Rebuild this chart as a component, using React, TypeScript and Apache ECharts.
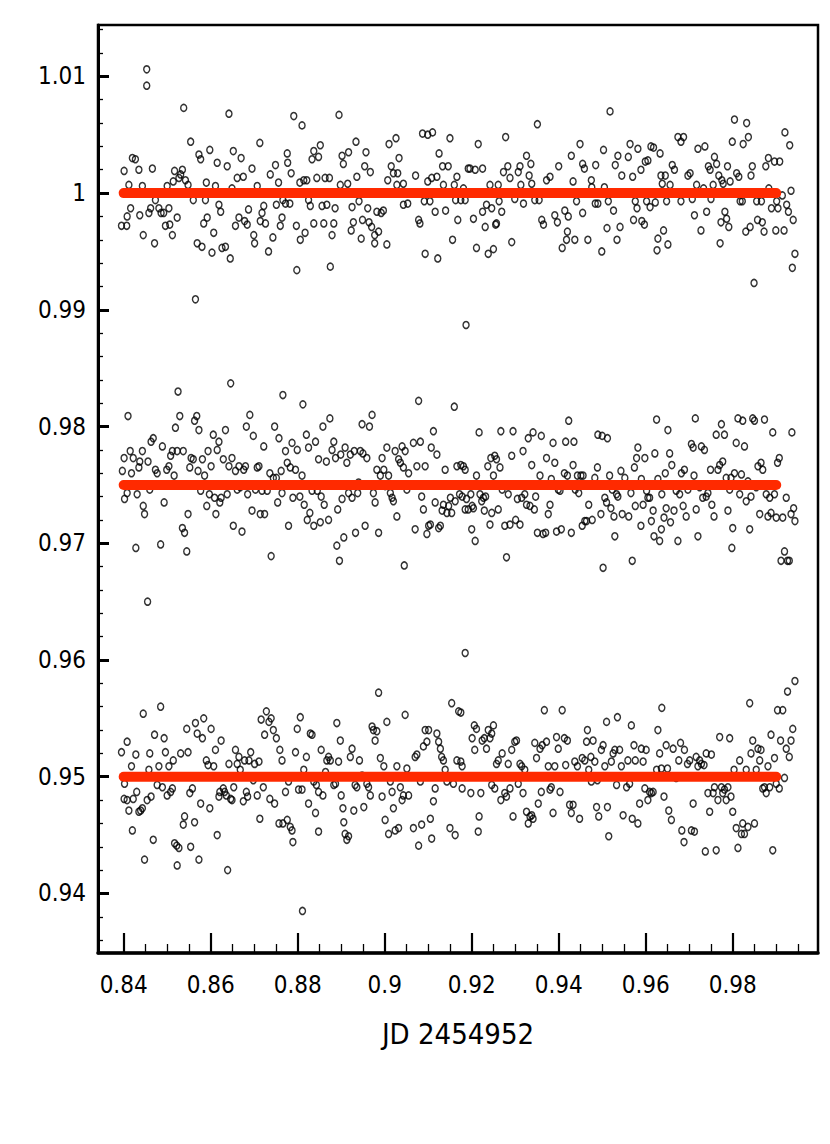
import React, { useEffect, useRef } from "react";
import * as echarts from "echarts";

// ---- axis setup (data units) ----
const X_MIN = 0.8341;
const X_MAX = 0.9996;
const Y_MIN = 0.9349;
const Y_MAX = 1.0144;
const X_LABEL = "JD 2454952";

const xMajor = [0.84, 0.86, 0.88, 0.9, 0.92, 0.94, 0.96, 0.98];
const xMinor = [
  0.845, 0.85, 0.855, 0.865, 0.87, 0.875, 0.885, 0.89, 0.895, 0.905, 0.91, 0.915, 0.925, 0.93, 0.935,
  0.945, 0.95, 0.955, 0.965, 0.97, 0.975, 0.985, 0.99, 0.995,
];
const yMajor = [0.94, 0.95, 0.96, 0.97, 0.98, 0.99, 1, 1.01];
const yMinor = [
  0.936, 0.938, 0.942, 0.944, 0.946, 0.948, 0.952, 0.954, 0.956, 0.958, 0.962, 0.964, 0.966, 0.968,
  0.972, 0.974, 0.976, 0.978, 0.982, 0.984, 0.986, 0.988, 0.992, 0.994, 0.996, 0.998, 1.002, 1.004,
  1.006, 1.008, 1.012, 1.014,
];

// ---- fitted levels (red lines) ----
const fitX = [0.84, 0.99];
const fitLevels = [1.0, 0.975, 0.95];

// ---- photometry: upper band ----
const topBand = [
  [0.8395,0.9972],[0.8407,0.9972],[0.8408,0.9980],[0.8416,0.9987],[0.8401,1.0019],[0.8412,1.0007],[0.8420,1.0030],[0.8427,1.0029],[0.8435,1.0020],[0.8443,1.0006],
  [0.8437,0.9981],[0.8445,0.9964],[0.8453,1.0106],[0.8453,1.0092],[0.8458,0.9983],[0.8462,0.9987],[0.8466,1.0021],[0.8471,0.9957],[0.8473,0.9994],[0.8481,0.9987],
  [0.8486,0.9983],[0.8492,0.9983],[0.8496,0.9972],[0.8500,1.0006],[0.8504,0.9987],[0.8506,0.9973],[0.8512,0.9964],[0.8514,1.0010],[0.8517,1.0019],[0.8523,0.9979],
  [0.8527,1.0013],[0.8531,1.0016],[0.8535,1.0020],[0.8538,1.0073],[0.8542,1.0011],[0.8548,1.0007],[0.8554,1.0044],[0.8560,0.9994],[0.8565,0.9909],[0.8569,0.9957],
  [0.8573,1.0033],[0.8577,1.0029],[0.8580,0.9954],[0.8584,0.9974],[0.8588,0.9994],[0.8590,1.0009],[0.8592,0.9979],[0.8598,1.0037],[0.8603,0.9949],[0.8607,0.9966],
  [0.8611,1.0006],[0.8615,1.0026],[0.8619,0.9990],[0.8623,0.9984],[0.8626,0.9953],[0.8634,0.9954],[0.8638,1.0023],[0.8642,1.0068],[0.8645,0.9944],[0.8649,1.0004],
  [0.8652,1.0036],[0.8657,0.9972],[0.8661,1.0013],[0.8665,0.9979],[0.8670,1.0030],[0.8675,1.0014],[0.8678,0.9976],[0.8684,0.9973],[0.8687,0.9986],[0.8695,1.0021],
  [0.8699,0.9964],[0.8701,0.9957],[0.8707,1.0006],[0.8713,1.0043],[0.8714,0.9976],[0.8718,0.9983],[0.8722,0.9989],[0.8726,0.9974],[0.8733,0.9950],[0.8737,1.0016],
  [0.8743,0.9962],[0.8749,1.0024],[0.8751,0.9990],[0.8756,1.0009],[0.8760,0.9972],[0.8764,0.9979],[0.8766,0.9994],[0.8772,0.9991],[0.8776,1.0034],[0.8777,1.0026],
  [0.8782,0.9991],[0.8785,1.0017],[0.8791,1.0066],[0.8797,0.9972],[0.8798,0.9934],[0.8805,1.0009],[0.8806,0.9960],[0.8810,1.0058],[0.8814,1.0011],[0.8817,0.9966],
  [0.8821,1.0011],[0.8825,0.9994],[0.8829,0.9989],[0.8833,1.0029],[0.8837,1.0036],[0.8837,0.9974],[0.8844,1.0013],[0.8848,1.0031],[0.8852,1.0041],[0.8856,0.9989],
  [0.8860,0.9974],[0.8863,1.0013],[0.8867,0.9990],[0.8873,1.0013],[0.8875,0.9937],[0.8879,0.9964],[0.8883,0.9974],[0.8886,0.9987],
  [0.8895,1.0067],[0.8902,1.0032],[0.8905,1.0025],[0.8917,1.0035],[0.8934,1.0044],[0.8936,1.0014],[0.8915,1.0008],[0.8898,1.0007],[0.8941,0.9993],[0.8925,0.9988],
  [0.8928,0.9975],[0.8923,0.9968],[0.8946,0.9961],[0.8949,0.9977],[0.8954,1.0023],[0.8957,1.0035],[0.8967,1.0018],[0.8961,0.9987],[0.8964,0.9975],[0.8970,0.9971],
  [0.8977,0.9964],[0.8977,0.9957],[0.8982,0.9984],[0.8986,0.9967],[0.8992,0.9983],[0.8997,0.9985],[0.9005,0.9956],[0.9010,1.0042],[0.9007,1.0011],[0.9015,1.0023],
  [0.9020,1.0017],[0.9026,1.0047],[0.9030,1.0017],[0.9028,1.0007],[0.9033,1.0030],[0.9043,1.0008],[0.9043,0.9990],[0.9053,0.9991],[0.9071,1.0015],[0.9078,0.9977],
  [0.9081,0.9974],[0.9087,1.0051],[0.9099,1.0050],[0.9110,1.0052],[0.9093,0.9948],[0.9091,0.9993],[0.9099,1.0010],[0.9104,0.9993],[0.9108,1.0013],[0.9116,0.9984],
  [0.9120,1.0014],[0.9122,0.9944],[0.9125,1.0034],[0.9133,1.0023],[0.9135,1.0007],[0.9140,0.9985],[0.9146,1.0023],[0.9150,1.0047],[0.9156,0.9960],[0.9160,1.0007],
  [0.9163,0.9994],[0.9166,1.0014],[0.9168,0.9977],[0.9175,0.9994],[0.9181,1.0004],[0.9185,0.9994],[0.9187,0.9887],[0.9192,1.0021],[0.9196,1.0021],[0.9204,0.9978],
  [0.9208,1.0020],[0.9211,0.9953],[0.9215,1.0042],[0.9225,1.0021],[0.9225,0.9984],[0.9231,0.9971],[0.9234,0.9990],[0.9238,0.9948],[0.9242,1.0007],[0.9246,0.9987],
  [0.9250,0.9952],[0.9255,0.9973],[0.9257,0.9974],[0.9261,1.0007],[0.9263,0.9993],[0.9269,0.9984],[0.9273,1.0018],[0.9278,1.0048],[0.9283,1.0023],[0.9288,1.0013],
  [0.9292,0.9958],[0.9299,0.9995],[0.9307,1.0018],[0.9311,1.0023],[0.9313,1.0007],[0.9319,0.9991],[0.9326,1.0032],[0.9332,1.0015],[0.9336,1.0025],[0.9338,1.0008],
  [0.9345,0.9994],[0.9351,1.0059],[0.9355,0.9994],[0.9361,0.9977],[0.9365,0.9973],[0.9372,1.0011],[0.9380,1.0014],[0.9391,0.9981],[0.9397,0.9975],[0.9400,1.0023],
  [0.9408,0.9953],[0.9414,0.9985],[0.9420,0.9967],[0.9422,0.9980],[0.9418,0.9960],[0.9429,1.0032],[0.9433,1.0010],[0.9437,0.9960],[0.9441,0.9993],
  [0.9449,1.0042],[0.9455,1.0025],[0.9459,1.0021],[0.9455,0.9983],[0.9467,0.9960],[0.9475,1.0011],[0.9476,1.0005],[0.9485,1.0024],[0.9484,0.9991],[0.9490,0.9991],
  [0.9499,0.9950],[0.9503,1.0037],[0.9505,1.0005],[0.9514,0.9993],[0.9518,1.0070],[0.9526,0.9985],[0.9530,1.0024],[0.9536,1.0032],[0.9511,0.9970],[0.9534,0.9960],
  [0.9541,0.9971],[0.9545,1.0015],[0.9560,1.0031],[0.9564,1.0042],[0.9570,1.0014],[0.9572,0.9977],[0.9576,0.9993],[0.9580,0.9987],[0.9582,1.0038],[0.9589,1.0020],
  [0.9591,0.9976],[0.9597,0.9973],[0.9599,1.0027],[0.9605,1.0028],[0.9602,0.9993],[0.9610,0.9988],[0.9612,1.0040],[0.9618,1.0039],[0.9622,0.9992],[0.9628,0.9961],
  [0.9626,0.9951],[0.9633,1.0034],[0.9635,1.0015],[0.9638,1.0008],[0.9641,0.9968],[0.9645,1.0015],[0.9648,0.9993],[0.9651,0.9956],[0.9656,1.0007],[0.9661,1.0024],
  [0.9666,1.0020],[0.9674,1.0048],[0.9681,1.0044],[0.9687,1.0048],[0.9681,0.9993],[0.9697,1.0015],[0.9702,1.0017],[0.9707,0.9995],[0.9712,0.9981],[0.9717,1.0007],
  [0.9720,1.0038],[0.9727,0.9968],[0.9733,1.0004],[0.9736,1.0040],[0.9740,0.9984],[0.9744,1.0023],[0.9748,1.0020],[0.9750,0.9995],[0.9755,1.0007],[0.9758,1.0031],
  [0.9763,1.0025],[0.9768,1.0015],[0.9771,0.9957],[0.9773,0.9975],[0.9775,1.0011],[0.9778,1.0008],[0.9782,0.9984],[0.9786,0.9978],[0.9791,0.9971],[0.9788,1.0023],
  [0.9794,1.0010],[0.9799,1.0044],[0.9804,1.0063],[0.9809,1.0017],[0.9814,1.0014],[0.9817,0.9993],[0.9822,0.9993],[0.9824,1.0042],[0.9830,0.9967],[0.9832,1.0060],
  [0.9836,1.0048],[0.9840,0.9971],[0.9842,1.0015],[0.9845,1.0023],[0.9849,0.9923],[0.9855,0.9993],[0.9857,0.9977],[0.9866,0.9993],[0.9868,0.9975],[0.9872,0.9967],
  [0.9876,1.0023],[0.9882,1.0030],[0.9883,1.0004],[0.9889,0.9987],[0.9896,1.0027],[0.9899,0.9968],[0.9901,0.9993],[0.9904,0.9987],[0.9908,1.0027],[0.9914,0.9998],
  [0.9918,0.9968],[0.9920,1.0052],[0.9924,0.9990],[0.9928,0.9984],[0.9931,1.0041],[0.9934,1.0002],[0.9939,0.9977],[0.9943,0.9948],[0.9937,0.9936],
];

// ---- photometry: middle band ----
const middleBand = [
  [0.8397,0.9762],[0.8401,0.9773],[0.8402,0.9738],[0.8408,0.9743],[0.8410,0.9809],[0.8415,0.9779],[0.8418,0.9760],[0.8422,0.9773],[0.8428,0.9696],[0.8431,0.9742],
  [0.8435,0.9765],[0.8437,0.9770],[0.8443,0.9779],[0.8445,0.9732],[0.8448,0.9725],[0.8455,0.9650],[0.8456,0.9770],[0.8460,0.9746],[0.8463,0.9787],[0.8468,0.9790],
  [0.8473,0.9763],[0.8477,0.9760],[0.8485,0.9699],[0.8489,0.9783],[0.8493,0.9735],[0.8499,0.9763],[0.8504,0.9766],[0.8508,0.9775],[0.8512,0.9779],[0.8516,0.9758],
  [0.8519,0.9799],[0.8523,0.9779],[0.8525,0.9830],[0.8529,0.9809],[0.8535,0.9713],[0.8537,0.9779],[0.8540,0.9709],[0.8545,0.9693],[0.8548,0.9725],[0.8552,0.9765],
  [0.8555,0.9773],[0.8560,0.9772],[0.8563,0.9805],[0.8568,0.9809],[0.8571,0.9762],[0.8573,0.9797],[0.8577,0.9745],[0.8581,0.9772],[0.8586,0.9758],[0.8591,0.9732],
  [0.8594,0.9779],[0.8597,0.9742],[0.8601,0.9766],[0.8606,0.9793],[0.8609,0.9739],[0.8612,0.9725],[0.8615,0.9780],[0.8619,0.9787],[0.8621,0.9735],[0.8624,0.9739],
  [0.8629,0.9772],[0.8634,0.9797],[0.8638,0.9742],[0.8642,0.9766],[0.8646,0.9837],[0.8649,0.9773],[0.8652,0.9715],[0.8657,0.9762],[0.8661,0.9746],[0.8665,0.9766],
  [0.8668,0.9748],[0.8672,0.9710],[0.8676,0.9763],[0.8680,0.9766],[0.8682,0.9800],[0.8685,0.9742],[0.8690,0.9810],[0.8695,0.9728],[0.8698,0.9792],[0.8703,0.9746],
  [0.8707,0.9765],[0.8711,0.9766],[0.8714,0.9725],[0.8718,0.9745],[0.8722,0.9783],[0.8724,0.9725],[0.8730,0.9745],[0.8736,0.9760],[0.8739,0.9689],[0.8744,0.9756],
  [0.8747,0.9800],[0.8751,0.9756],[0.8754,0.9735],[0.8757,0.9790],[0.8762,0.9762],[0.8764,0.9743],[0.8766,0.9827],[0.8772,0.9779],[0.8776,0.9769],[0.8779,0.9715],
  [0.8783,0.9765],[0.8787,0.9786],[0.8789,0.9739],[0.8795,0.9763],[0.8799,0.9780],[0.8805,0.9740],[0.8810,0.9758],[0.8812,0.9819],[0.8815,0.9733],[0.8820,0.9793],
  [0.8822,0.9720],[0.8825,0.9782],[0.8828,0.9726],[0.8833,0.9745],[0.8837,0.9715],[0.8841,0.9787],[0.8845,0.9745],[0.8848,0.9772],[0.8852,0.9718],[0.8854,0.9740],
  [0.8858,0.9800],[0.8861,0.9733],[0.8866,0.9770],[0.8871,0.9720],[0.8874,0.9807],[0.8879,0.9780],[0.8883,0.9787],[0.8887,0.9773],[0.8890,0.9698],[0.8892,0.9729],
  [0.8896,0.9685],[0.8899,0.9776],[0.8902,0.9738],[0.8906,0.9705],[0.8909,0.9782],[0.8913,0.9769],[0.8917,0.9743],[0.8921,0.9776],[0.8925,0.9739],[0.8930,0.9779],
  [0.8933,0.9709],[0.8938,0.9743],[0.8940,0.9752],[0.8944,0.9779],[0.8948,0.9802],[0.8950,0.9777],[0.8955,0.9715],[0.8959,0.9773],[0.8965,0.9800],[0.8971,0.9810],
  [0.8974,0.9743],[0.8978,0.9735],[0.8982,0.9763],[0.8986,0.9709],[0.8990,0.9758],[0.8994,0.9773],[0.8998,0.9763],[0.9001,0.9749],[0.9005,0.9782],[0.9009,0.9758],
  [0.9013,0.9743],[0.9017,0.9739],[0.9020,0.9736],[0.9024,0.9779],[0.9028,0.9723],[0.9032,0.9772],[0.9036,0.9769],[0.9040,0.9783],[0.9043,0.9765],[0.9045,0.9681],
  [0.9047,0.9779],[0.9051,0.9746],[0.9055,0.9760],[0.9066,0.9786],[0.9070,0.9712],[0.9074,0.9766],[0.9078,0.9822],[0.9082,0.9787],[0.9085,0.9740],[0.9089,0.9729],
  [0.9093,0.9766],[0.9097,0.9708],[0.9101,0.9715],[0.9105,0.9716],[0.9107,0.9782],[0.9112,0.9796],[0.9116,0.9735],[0.9120,0.9776],[0.9124,0.9713],[0.9128,0.9715],
  [0.9132,0.9728],[0.9135,0.9733],[0.9139,0.9763],[0.9143,0.9726],[0.9147,0.9732],[0.9151,0.9739],[0.9154,0.9726],[0.9160,0.9817],[0.9162,0.9736],[0.9166,0.9766],
  [0.9172,0.9742],
  [0.9175,0.9767],[0.9181,0.9766],[0.9185,0.9763],[0.9178,0.9740],[0.9188,0.9738],[0.9185,0.9729],[0.9192,0.9729],[0.9198,0.9742],[0.9201,0.9732],[0.9204,0.9730],
  [0.9200,0.9712],[0.9208,0.9702],[0.9211,0.9758],[0.9217,0.9795],[0.9219,0.9742],[0.9223,0.9736],[0.9227,0.9739],[0.9229,0.9728],[0.9232,0.9740],[0.9237,0.9766],
  [0.9242,0.9716],[0.9244,0.9773],[0.9246,0.9726],[0.9250,0.9758],[0.9253,0.9775],[0.9257,0.9772],[0.9261,0.9729],[0.9265,0.9765],[0.9267,0.9796],[0.9270,0.9746],
  [0.9276,0.9715],[0.9280,0.9688],[0.9284,0.9742],[0.9288,0.9716],[0.9292,0.9775],[0.9295,0.9796],[0.9301,0.9720],[0.9305,0.9738],[0.9311,0.9716],[0.9315,0.9739],
  [0.9318,0.9779],[0.9322,0.9742],[0.9326,0.9733],[0.9330,0.9790],[0.9334,0.9732],[0.9338,0.9767],[0.9341,0.9795],[0.9344,0.9729],[0.9347,0.9740],[0.9351,0.9709],
  [0.9357,0.9758],[0.9360,0.9792],[0.9364,0.9708],[0.9370,0.9709],[0.9372,0.9773],[0.9376,0.9725],[0.9380,0.9733],[0.9383,0.9755],[0.9387,0.9786],[0.9391,0.9769],
  [0.9395,0.9710],[0.9399,0.9746],[0.9403,0.9745],[0.9406,0.9712],[0.9413,0.9760],[0.9416,0.9787],[0.9420,0.9758],[0.9423,0.9805],[0.9429,0.9709],[0.9433,0.9767],
  [0.9435,0.9787],[0.9438,0.9746],[0.9443,0.9758],[0.9446,0.9743],[0.9451,0.9758],[0.9454,0.9715],[0.9456,0.9758],[0.9460,0.9719],[0.9464,0.9719],[0.9469,0.9733],
  [0.9477,0.9720],[0.9483,0.9756],[0.9489,0.9765],[0.9490,0.9793],[0.9497,0.9725],[0.9500,0.9792],[0.9502,0.9679],[0.9506,0.9739],[0.9510,0.9735],[0.9512,0.9790],
  [0.9517,0.9758],[0.9520,0.9730],[0.9523,0.9746],[0.9527,0.9723],[0.9529,0.9706],[0.9533,0.9742],[0.9536,0.9740],[0.9543,0.9762],[0.9546,0.9725],[0.9552,0.9756],
  [0.9561,0.9723],[0.9566,0.9743],[0.9569,0.9685],[0.9574,0.9765],[0.9576,0.9732],[0.9579,0.9773],[0.9582,0.9782],[0.9589,0.9715],[0.9590,0.9755],[0.9594,0.9733],
  [0.9598,0.9773],[0.9602,0.9745],[0.9605,0.9739],[0.9609,0.9739],[0.9613,0.9719],[0.9617,0.9728],[0.9619,0.9706],[0.9621,0.9777],[0.9625,0.9806],[0.9628,0.9755],
  [0.9632,0.9702],[0.9636,0.9712],[0.9637,0.9742],[0.9642,0.9722],[0.9645,0.9760],[0.9647,0.9730],[0.9651,0.9797],[0.9655,0.9777],[0.9657,0.9718],[0.9660,0.9767],
  [0.9665,0.9728],[0.9670,0.9745],[0.9674,0.9702],[0.9678,0.9742],[0.9682,0.9760],[0.9686,0.9732],[0.9689,0.9763],[0.9693,0.9723],[0.9697,0.9746],[0.9705,0.9785],
  [0.9709,0.9782],[0.9711,0.9758],[0.9714,0.9807],[0.9716,0.9729],[0.9720,0.9706],[0.9724,0.9748],[0.9728,0.9783],[0.9731,0.9739],[0.9735,0.9780],[0.9739,0.9740],
  [0.9743,0.9743],[0.9749,0.9763],[0.9752,0.9733],[0.9757,0.9723],[0.9762,0.9793],[0.9766,0.9763],[0.9770,0.9767],[0.9774,0.9802],[0.9777,0.9770],[0.9781,0.9793],
  [0.9785,0.9756],[0.9789,0.9728],[0.9793,0.9746],[0.9796,0.9756],[0.9800,0.9713],[0.9798,0.9696],[0.9804,0.9760],[0.9808,0.9786],[0.9812,0.9807],[0.9816,0.9742],
  [0.9820,0.9759],[0.9823,0.9805],[0.9827,0.9783],[0.9831,0.9736],[0.9835,0.9753],[0.9839,0.9712],[0.9842,0.9740],[0.9846,0.9807],[0.9850,0.9805],[0.9854,0.9748],
  [0.9858,0.9766],[0.9862,0.9725],[0.9865,0.9769],[0.9869,0.9763],[0.9873,0.9806],[0.9877,0.9742],[0.9881,0.9723],[0.9885,0.9739],[0.9888,0.9726],[0.9892,0.9795],
  [0.9896,0.9742],[0.9900,0.9722],[0.9903,0.9769],[0.9907,0.9773],[0.9911,0.9685],[0.9915,0.9722],[0.9919,0.9693],[0.9923,0.9739],[0.9926,0.9685],[0.9930,0.9685],
  [0.9934,0.9725],[0.9936,0.9795],[0.9940,0.9730],[0.9943,0.9719],
];

// ---- photometry: lower band ----
const bottomBand = [
  [0.8395,0.9521],[0.8402,0.9494],[0.8408,0.9530],[0.8401,0.9481],[0.8408,0.9480],[0.8412,0.9471],[0.8418,0.9509],[0.8420,0.9454],[0.8422,0.9481],[0.8428,0.9519],
  [0.8430,0.9487],[0.8435,0.9470],[0.8439,0.9471],[0.8443,0.9473],[0.8445,0.9554],[0.8448,0.9429],[0.8454,0.9480],[0.8458,0.9506],[0.8460,0.9520],[0.8463,0.9483],
  [0.8468,0.9446],[0.8471,0.9536],[0.8477,0.9493],[0.8481,0.9509],[0.8485,0.9560],[0.8489,0.9491],[0.8493,0.9533],[0.8496,0.9521],[0.8500,0.9484],[0.8504,0.9509],
  [0.8508,0.9487],[0.8512,0.9490],[0.8514,0.9514],[0.8517,0.9443],[0.8522,0.9441],[0.8523,0.9424],[0.8527,0.9439],[0.8531,0.9520],[0.8537,0.9459],[0.8540,0.9466],
  [0.8545,0.9541],[0.8548,0.9521],[0.8552,0.9486],[0.8554,0.9440],[0.8558,0.9490],[0.8563,0.9461],[0.8565,0.9546],[0.8569,0.9537],[0.8573,0.9429],[0.8577,0.9477],
  [0.8581,0.9533],[0.8584,0.9550],[0.8590,0.9514],[0.8594,0.9510],[0.8598,0.9473],[0.8601,0.9541],[0.8607,0.9509],[0.8611,0.9523],[0.8615,0.9450],[0.8619,0.9483],
  [0.8621,0.9487],[0.8624,0.9531],[0.8629,0.9490],[0.8632,0.9487],[0.8636,0.9484],[0.8639,0.9420],[0.8642,0.9511],[0.8646,0.9481],[0.8649,0.9480],[0.8653,0.9491],
  [0.8657,0.9523],[0.8661,0.9511],[0.8665,0.9517],[0.8668,0.9506],[0.8675,0.9479],[0.8678,0.9514],[0.8682,0.9487],[0.8685,0.9483],[0.8688,0.9514],[0.8692,0.9521],
  [0.8698,0.9497],[0.8701,0.9511],[0.8707,0.9484],[0.8711,0.9513],[0.8713,0.9464],[0.8716,0.9549],[0.8721,0.9491],[0.8724,0.9536],[0.8728,0.9556],[0.8734,0.9547],
  [0.8736,0.9481],[0.8739,0.9550],[0.8744,0.9540],[0.8747,0.9477],[0.8751,0.9533],[0.8757,0.9460],[0.8759,0.9523],[0.8764,0.9514],[0.8766,0.9460],[0.8772,0.9487],
  [0.8776,0.9463],[0.8779,0.9496],[0.8783,0.9457],[0.8787,0.9454],[0.8789,0.9444],[0.8795,0.9521],[0.8799,0.9541],[0.8802,0.9489],[0.8806,0.9551],[0.8810,0.9489],
  [0.8811,0.9385],[0.8814,0.9506],[0.8820,0.9517],[0.8825,0.9477],[0.8829,0.9537],[0.8833,0.9536],[0.8837,0.9496],[0.8841,0.9469],[0.8843,0.9493],[0.8848,0.9487],
  [0.8848,0.9453],[0.8854,0.9523],[0.8858,0.9484],[0.8864,0.9504],[0.8867,0.9514],[0.8871,0.9517],[0.8875,0.9514],[0.8883,0.9493],[0.8887,0.9494],[0.8890,0.9546],
  [0.8894,0.9513],[0.8898,0.9531],[0.8900,0.9484],[0.8904,0.9473],[0.8906,0.9461],[0.8909,0.9451],[0.8913,0.9446],[0.8917,0.9449],[0.8921,0.9517],[0.8925,0.9524],
  [0.8929,0.9471],[0.8932,0.9493],[0.8936,0.9491],[0.8942,0.9514],[0.8948,0.9501],[0.8952,0.9474],[0.8959,0.9494],[0.8963,0.9491],[0.8967,0.9484],[0.8971,0.9543],
  [0.8974,0.9540],[0.8978,0.9531],[0.8982,0.9539],[0.8986,0.9572],[0.8990,0.9516],[0.8994,0.9483],[0.8998,0.9509],[0.9001,0.9463],[0.9005,0.9547],[0.9009,0.9451],
  [0.9013,0.9496],[0.9017,0.9487],[0.9020,0.9473],[0.9024,0.9454],[0.9028,0.9509],[0.9032,0.9456],[0.9036,0.9491],[0.9040,0.9480],[0.9043,0.9484],[0.9047,0.9553],
  [0.9051,0.9507],[0.9055,0.9484],[0.9066,0.9456],[0.9070,0.9517],[0.9074,0.9519],[0.9078,0.9441],[0.9082,0.9496],[0.9085,0.9459],[0.9089,0.9526],[0.9093,0.9540],
  [0.9097,0.9530],[0.9101,0.9540],[0.9105,0.9464],[0.9108,0.9447],[0.9112,0.9479],[0.9116,0.9490],[0.9120,0.9537],[0.9124,0.9530],[0.9128,0.9524],[0.9131,0.9517],
  [0.9135,0.9514],[0.9139,0.9506],[0.9143,0.9496],[0.9150,0.9456],[0.9154,0.9563],[0.9158,0.9494],[0.9162,0.9450],[0.9166,0.9514],[0.9170,0.9556],
  [0.9175,0.9555],[0.9175,0.9513],[0.9178,0.9509],[0.9178,0.9490],[0.9185,0.9606],[0.9198,0.9486],[0.9201,0.9533],[0.9206,0.9544],[0.9207,0.9523],[0.9211,0.9541],
  [0.9215,0.9453],[0.9217,0.9466],[0.9221,0.9486],[0.9224,0.9531],[0.9229,0.9533],[0.9234,0.9524],[0.9238,0.9540],[0.9242,0.9533],[0.9246,0.9537],[0.9250,0.9544],
  [0.9246,0.9493],[0.9253,0.9490],[0.9257,0.9511],[0.9261,0.9514],[0.9267,0.9480],[0.9270,0.9520],[0.9276,0.9486],[0.9280,0.9483],[0.9284,0.9511],[0.9288,0.9490],
  [0.9292,0.9523],[0.9295,0.9466],[0.9299,0.9530],[0.9303,0.9531],[0.9307,0.9494],[0.9311,0.9511],[0.9315,0.9509],[0.9318,0.9486],[0.9322,0.9506],[0.9326,0.9470],
  [0.9330,0.9460],[0.9334,0.9466],[0.9338,0.9467],[0.9341,0.9464],[0.9345,0.9529],[0.9349,0.9516],[0.9353,0.9477],[0.9357,0.9524],[0.9360,0.9487],[0.9362,0.9527],
  [0.9367,0.9557],[0.9372,0.9530],[0.9376,0.9509],[0.9380,0.9489],[0.9383,0.9491],[0.9387,0.9469],[0.9391,0.9509],[0.9395,0.9534],[0.9399,0.9524],[0.9403,0.9487],
  [0.9408,0.9557],[0.9413,0.9533],[0.9416,0.9510],[0.9420,0.9531],[0.9425,0.9476],[0.9429,0.9469],[0.9433,0.9476],[0.9437,0.9513],[0.9443,0.9509],[0.9448,0.9464],
  [0.9454,0.9516],[0.9460,0.9514],[0.9464,0.9530],[0.9466,0.9540],[0.9469,0.9506],[0.9474,0.9517],[0.9475,0.9496],[0.9479,0.9531],[0.9483,0.9513],[0.9487,0.9474],
  [0.9489,0.9497],[0.9492,0.9466],[0.9498,0.9523],[0.9502,0.9527],[0.9506,0.9509],[0.9510,0.9547],[0.9512,0.9474],[0.9515,0.9449],[0.9521,0.9513],[0.9525,0.9520],
  [0.9529,0.9523],[0.9533,0.9493],[0.9535,0.9551],[0.9540,0.9523],[0.9544,0.9509],[0.9548,0.9467],[0.9556,0.9491],[0.9559,0.9514],[0.9563,0.9494],[0.9567,0.9544],
  [0.9569,0.9464],[0.9573,0.9527],[0.9576,0.9514],[0.9582,0.9460],[0.9586,0.9477],[0.9590,0.9524],[0.9594,0.9513],[0.9598,0.9490],[0.9601,0.9523],[0.9605,0.9480],
  [0.9609,0.9487],[0.9613,0.9486],[0.9617,0.9487],[0.9625,0.9506],[0.9628,0.9540],[0.9632,0.9520],[0.9636,0.9507],[0.9637,0.9559],[0.9642,0.9483],[0.9647,0.9527],
  [0.9650,0.9507],[0.9653,0.9471],[0.9659,0.9463],[0.9663,0.9524],[0.9670,0.9499],[0.9676,0.9514],[0.9680,0.9529],[0.9683,0.9454],[0.9688,0.9444],[0.9689,0.9523],
  [0.9696,0.9511],[0.9701,0.9514],[0.9705,0.9454],[0.9709,0.9477],[0.9712,0.9453],[0.9716,0.9517],[0.9720,0.9509],[0.9724,0.9514],[0.9728,0.9511],[0.9734,0.9510],
  [0.9737,0.9436],[0.9739,0.9520],[0.9743,0.9486],[0.9747,0.9470],[0.9751,0.9519],[0.9755,0.9486],[0.9758,0.9491],[0.9762,0.9437],[0.9766,0.9480],[0.9770,0.9534],
  [0.9774,0.9491],[0.9777,0.9486],[0.9781,0.9489],[0.9785,0.9480],[0.9789,0.9491],[0.9793,0.9533],[0.9796,0.9483],[0.9800,0.9470],[0.9803,0.9506],[0.9808,0.9456],
  [0.9812,0.9439],[0.9816,0.9514],[0.9820,0.9451],[0.9823,0.9460],[0.9827,0.9451],[0.9831,0.9506],[0.9835,0.9457],[0.9839,0.9563],[0.9842,0.9520],[0.9846,0.9531],
  [0.9850,0.9460],[0.9854,0.9506],[0.9858,0.9524],[0.9862,0.9514],[0.9865,0.9523],[0.9869,0.9490],[0.9873,0.9491],[0.9877,0.9486],[0.9881,0.9509],[0.9885,0.9491],
  [0.9888,0.9536],[0.9892,0.9437],[0.9896,0.9516],[0.9900,0.9494],[0.9903,0.9557],[0.9907,0.9490],[0.9910,0.9531],[0.9915,0.9557],[0.9919,0.9499],[0.9923,0.9524],
  [0.9926,0.9573],[0.9930,0.9517],[0.9934,0.9531],[0.9938,0.9541],[0.9943,0.9582],
];

const FONT = "'Liberation Sans Narrow', 'DejaVu Sans Condensed', 'Arial Narrow', 'Liberation Sans', sans-serif";
const fmt = (v: number) => String(parseFloat(v.toFixed(4)));

export default function App() {
  const ref = useRef<HTMLDivElement>(null);
  useEffect(() => {
    if (!ref.current) return;
    const chart = echarts.init(ref.current, null, { renderer: "svg" });
    const pointStyle = {
      color: "rgba(255,255,255,0)",
      borderColor: "#000",
      borderWidth: 1.5,
    };
    const bands = [topBand, middleBand, bottomBand];
    chart.setOption({
      animation: false,
      backgroundColor: "#ffffff",
      grid: {
        left: 98,
        top: 25,
        right: 12,
        bottom: 191,
        show: true,
        borderColor: "#000",
        borderWidth: 2.5,
        backgroundColor: "transparent",
      },
      xAxis: [
        {
          type: "value",
          min: X_MIN,
          max: X_MAX,
          position: "bottom",
          axisLine: { show: true, onZero: false, lineStyle: { color: "#000", width: 3.5 } },
          axisTick: { show: true, inside: true, length: 20, customValues: xMajor, lineStyle: { color: "#000", width: 2.2 } },
          axisLabel: { customValues: xMajor, formatter: fmt, margin: 20, fontSize: 24, fontFamily: FONT, color: "#000" },
          splitLine: { show: false },
          name: X_LABEL,
          nameLocation: "middle",
          nameGap: 66,
          nameTextStyle: { fontSize: 29, fontFamily: FONT, color: "#000" },
        },
        {
          type: "value",
          min: X_MIN,
          max: X_MAX,
          position: "bottom",
          axisLine: { show: false },
          axisTick: { show: true, inside: true, length: 9, customValues: xMinor, lineStyle: { color: "#000", width: 1.3 } },
          axisLabel: { show: false },
          splitLine: { show: false },
        },
      ],
      yAxis: [
        {
          type: "value",
          min: Y_MIN,
          max: Y_MAX,
          position: "left",
          axisLine: { show: true, onZero: false, lineStyle: { color: "#000", width: 3 } },
          axisTick: { show: true, inside: true, length: 11, customValues: yMajor, lineStyle: { color: "#000", width: 3 } },
          axisLabel: { customValues: yMajor, formatter: fmt, margin: 12, fontSize: 24, fontFamily: FONT, color: "#000" },
          splitLine: { show: false },
        },
        {
          type: "value",
          min: Y_MIN,
          max: Y_MAX,
          position: "left",
          axisLine: { show: false },
          axisTick: { show: true, inside: true, length: 5, customValues: yMinor, lineStyle: { color: "#000", width: 1.3 } },
          axisLabel: { show: false },
          splitLine: { show: false },
        },
      ],
      series: [
        ...bands.map((b) => ({
          type: "scatter",
          xAxisIndex: 0,
          yAxisIndex: 0,
          data: b,
          symbol: "circle",
          symbolSize: [6, 7],
          itemStyle: pointStyle,
          z: 2,
          silent: true,
        })),
        ...fitLevels.map((lvl) => ({
          type: "line",
          xAxisIndex: 0,
          yAxisIndex: 0,
          data: fitX.map((x) => [x, lvl]),
          symbol: "none",
          lineStyle: { color: "#ff2a00", width: 10, cap: "round" },
          z: 3,
          silent: true,
        })),
      ],
    });
    return () => chart.dispose();
  }, []);
  return (
    <div
      ref={ref}
      style={{ position: "fixed", left: 0, top: 0, width: 830, height: 1144, background: "#fff" }}
    />
  );
}
